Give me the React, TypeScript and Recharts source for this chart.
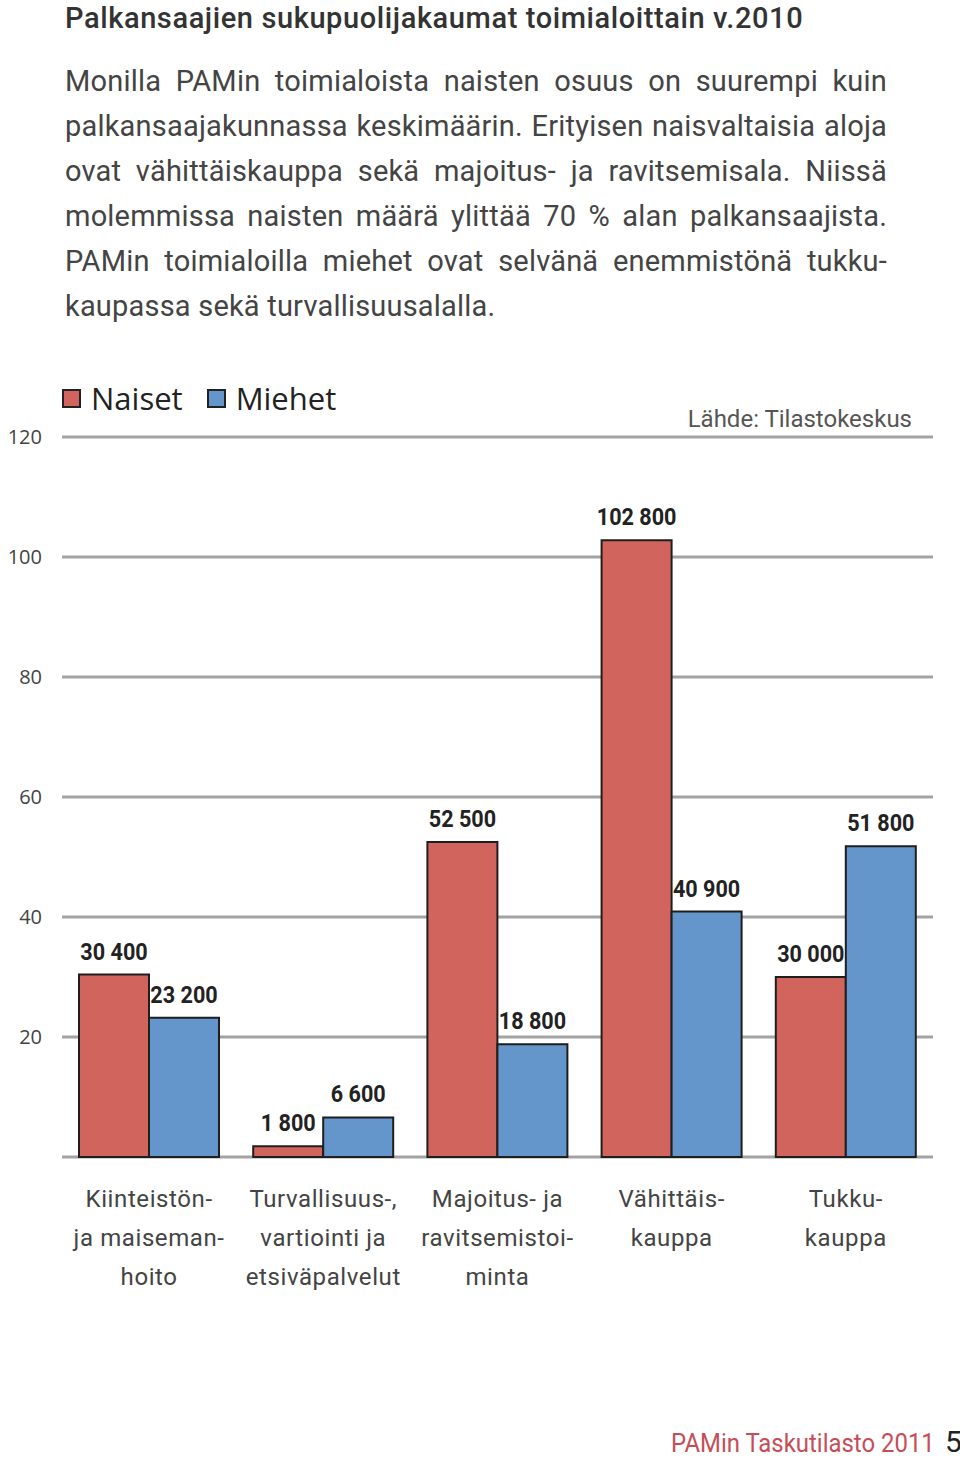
import { Bar, BarChart, CartesianGrid, LabelList, XAxis, YAxis } from "recharts";

const categories = [
  ["Kiinteistön-", "ja maiseman-", "hoito"],
  ["Turvallisuus-,", "vartiointi ja", "etsiväpalvelut"],
  ["Majoitus- ja", "ravitsemistoi-", "minta"],
  ["Vähittäis-", "kauppa"],
  ["Tukku-", "kauppa"],
];
// tuhansina
const naiset = [30.4, 1.8, 52.5, 102.8, 30.0];
const miehet = [23.2, 6.6, 18.8, 40.9, 51.8];
const yTicks = [0, 20, 40, 60, 80, 100, 120];

const title = "Palkansaajien sukupuolijakaumat toimialoittain v.2010";
const paragraph = [
  "Monilla PAMin toimialoista naisten osuus on suurempi kuin",
  "palkansaajakunnassa keskimäärin. Erityisen naisvaltaisia aloja",
  "ovat vähittäiskauppa sekä majoitus- ja ravitsemisala. Niissä",
  "molemmissa naisten määrä ylittää 70 % alan palkansaajista.",
  "PAMin toimialoilla miehet ovat selvänä enemmistönä tukku-",
  "kaupassa sekä turvallisuusalalla.",
];
const source = "Lähde: Tilastokeskus";
const footer = "PAMin Taskutilasto 2011";
const pageNo = "5";
const series = [
  { key: "naiset", name: "Naiset", color: "#d1655e" },
  { key: "miehet", name: "Miehet", color: "#6496cb" },
];

const data = categories.map((c, i) => ({
  name: i,
  naiset: naiset[i],
  miehet: miehet[i],
}));

const FONT = 'Roboto, "Open Sans", sans-serif';

const fmt = (v: any) =>
  String(Math.round(Number(v) * 1000)).replace(/\B(?=(\d{3})+(?!\d))/g, " ");

const CatTick = (props: any) => {
  const { x, y, payload } = props;
  const lines = categories[payload.value] || [];
  return (
    <g>
      {lines.map((l, i) => (
        <text
          key={i}
          x={x}
          y={y + 48 + i * 39}
          textAnchor="middle"
          fill="#444"
          fontSize={24}
          letterSpacing={0.6}
          fontFamily={FONT}
        >
          {l}
        </text>
      ))}
    </g>
  );
};

const ValueLabel = (p: any) => {
  const cx = Number(p.x) + Number(p.width) / 2;
  const top = Math.min(Number(p.y), Number(p.y) + Number(p.height));
  return (
    <text
      transform={`translate(${cx},${top - 15}) scale(0.9,1)`}
      textAnchor="middle"
      fill="#222"
      fontSize={24}
      fontWeight={700}
      fontFamily={FONT}
    >
      {fmt(p.value)}
    </text>
  );
};

export default function App() {
  return (
    <div style={{ position: "absolute", left: 0, top: 0, width: 960, height: 1463, background: "#fff", overflow: "hidden" }}>
      <div style={{ position: "absolute", left: 65, top: 1, fontFamily: FONT, fontSize: 29, fontWeight: 500, letterSpacing: 0.6, color: "#333", whiteSpace: "nowrap" }}>
        {title}
      </div>
      {paragraph.map((line, i) => (
        <div
          key={i}
          style={{
            position: "absolute",
            left: 65,
            top: 64 + i * 45,
            width: 822,
            fontFamily: FONT,
            fontSize: 29,
            letterSpacing: 0.2,
            color: "#444",
            whiteSpace: "nowrap",
            textAlign: "justify",
            textAlignLast: i < paragraph.length - 1 ? "justify" : "left",
          }}
        >
          {line}
        </div>
      ))}

      <div style={{ position: "absolute", left: 62, top: 377, display: "flex", alignItems: "center", fontFamily: '"Open Sans", sans-serif', fontSize: 31, color: "#222" }}>
        {series.map((s) => (
          <div key={s.key} style={{ display: "flex", alignItems: "center", marginRight: 24 }}>
            <span style={{ width: 15, height: 15, background: s.color, border: "2px solid #222", marginRight: 10 }} />
            <span>{s.name}</span>
          </div>
        ))}
      </div>

      <div style={{ position: "absolute", top: 0, left: 0 }}>
        <BarChart
          width={960}
          height={1463}
          data={data}
          margin={{ top: 437, right: 27, bottom: 166, left: 0 }}
          barGap={0}
        >
          <CartesianGrid vertical={false} stroke="#a3a3a3" strokeWidth={3} />
          <YAxis
            width={62}
            domain={[0, 120]}
            ticks={yTicks}
            interval={0}
            axisLine={false}
            tickLine={false}
            tickSize={0}
            tickMargin={20}
            tickFormatter={(v) => (v === 0 ? "" : String(v))}
            tick={{ fontSize: 20, fill: "#444", fontFamily: '"Open Sans", sans-serif' }}
          />
          <XAxis
            dataKey="name"
            height={140}
            axisLine={false}
            tickLine={false}
            tickSize={0}
            interval={0}
            tick={<CatTick />}
          />
          {series.map((s) => (
            <Bar
              key={s.key}
              dataKey={s.key}
              name={s.name}
              fill={s.color}
              stroke="#1e1e1e"
              strokeWidth={2}
              barSize={70}
              isAnimationActive={false}
            >
              <LabelList dataKey={s.key} content={<ValueLabel />} />
            </Bar>
          ))}
        </BarChart>
      </div>

      <div style={{ position: "absolute", right: 48, top: 405, fontFamily: FONT, fontSize: 24, color: "#555", whiteSpace: "nowrap" }}>
        {source}
      </div>
      <div
        style={{
          position: "absolute",
          right: 25,
          top: 1428,
          fontFamily: FONT,
          fontSize: 26,
          color: "#c64d58",
          whiteSpace: "nowrap",
          transform: "scaleX(0.92)",
          transformOrigin: "right top",
        }}
      >
        {footer}
      </div>
      <div style={{ position: "absolute", left: 945, top: 1424, fontFamily: FONT, fontSize: 30, color: "#222" }}>
        {pageNo}
      </div>
    </div>
  );
}
